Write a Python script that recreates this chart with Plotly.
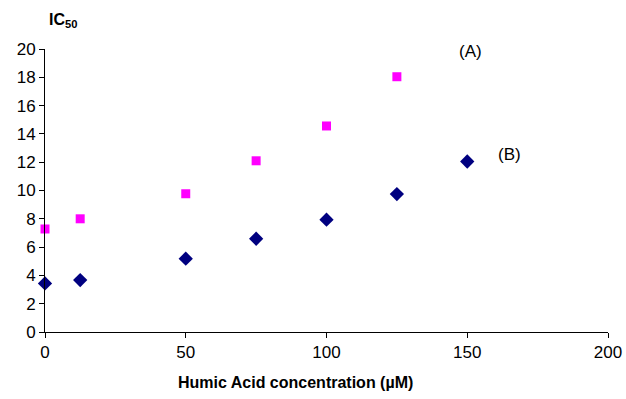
import plotly.graph_objects as go

conc_a = [0, 12.5, 50, 75, 100, 125]
ic50_a = [7.28, 8.0, 9.77, 12.1, 14.56, 18.04]
conc_b = [0, 12.5, 50, 75, 100, 125, 150]
ic50_b = [3.43, 3.67, 5.18, 6.59, 7.94, 9.75, 12.05]
x_ticks = [0, 50, 100, 150, 200]

fig = go.Figure()
fig.add_trace(go.Scatter(x=conc_a, y=ic50_a, mode="markers", name="(A)",
                         marker=dict(symbol="square", size=9, color="#FF00FF"),
                         cliponaxis=False))
fig.add_trace(go.Scatter(x=conc_b, y=ic50_b, mode="markers", name="(B)",
                         marker=dict(symbol="diamond", size=11, color="#000080"),
                         cliponaxis=False))

font = dict(family="Liberation Sans, Arial, sans-serif", size=17, color="black")
fig.update_layout(
    width=626, height=399,
    margin=dict(l=45, r=18, t=49, b=67),
    plot_bgcolor="white", paper_bgcolor="white",
    showlegend=False,
    font=font,
    xaxis=dict(range=[0, 200], tickvals=x_ticks, automargin=False,
               showline=True, linecolor="black", linewidth=1,
               ticks="outside", ticklen=5, tickcolor="black",
               showgrid=False, zeroline=False),
    yaxis=dict(range=[0, 20], dtick=2, automargin=False,
               showline=True, linecolor="black", linewidth=1,
               ticks="outside", ticklen=5, tickcolor="black",
               showgrid=False, zeroline=False),
    annotations=[
        dict(text="<b>IC<sub>50</sub></b>", x=0.0311, y=1.099, xref="paper", yref="paper",
             xanchor="center", yanchor="middle", showarrow=False, font=dict(size=16)),
        dict(text="<b>Humic Acid concentration (µM)</b>", x=0.4458, y=-0.180,
             xref="paper", yref="paper", xanchor="center", yanchor="middle",
             showarrow=False, font=dict(size=16)),
        dict(text="(A)", x=151.0, y=19.8, xref="x", yref="y", showarrow=False,
             font=dict(size=17)),
        dict(text="(B)", x=165, y=12.55, xref="x", yref="y", showarrow=False,
             font=dict(size=17)),
    ],
)
fig.write_html("out.html", config={"displayModeBar": False},
               post_script="document.body.style.margin='0';document.body.style.overflow='hidden';")
